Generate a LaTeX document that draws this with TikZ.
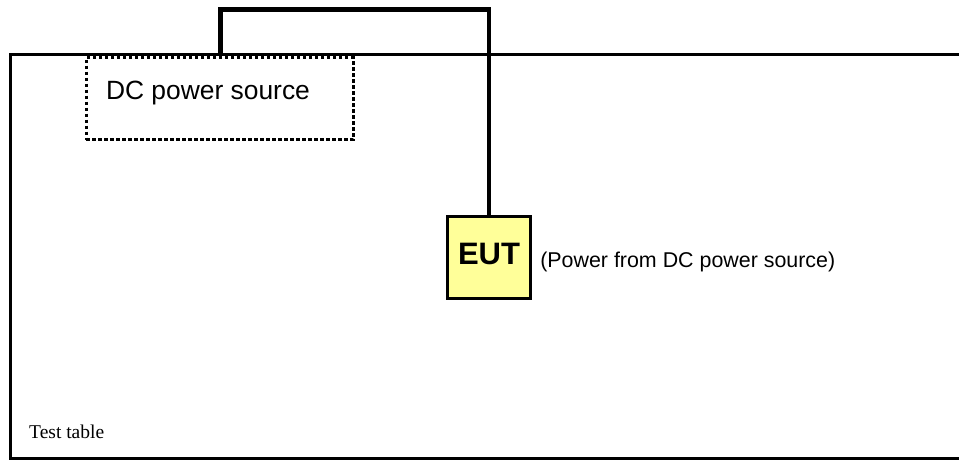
\documentclass[tikz,border=0pt]{standalone}
\usepackage{fontspec}
\setmainfont{Liberation Serif}
\newfontfamily\arial{Liberation Sans}
\usetikzlibrary{positioning,calc}
\definecolor{eutyel}{RGB}{255,255,153}
\tikzset{
  tbl/.style={line width=3pt, line cap=rect},
  srcbox/.style={draw, line width=3.4pt, dash pattern=on 3.4pt off 2.6pt,
      minimum width=267pt, minimum height=82pt, inner sep=0pt},
  eutbox/.style={draw, fill=eutyel, line width=3.2pt, minimum width=83pt,
      minimum height=82pt, inner sep=0pt, text depth=8pt,
      font=\arial\fontsize{31}{34}\selectfont\bfseries},
  wire/.style={line width=4.4pt},
  lbl/.style={font=\arial\fontsize{21.4}{24}\selectfont, inner sep=0pt},
}
\begin{document}
\begin{tikzpicture}[x=1pt,y=-1pt]
\useasboundingbox (0,0) rectangle (959,460);
% test table, open to the right
\draw[tbl] (959,55) -- (10,55) -- (10,458) -- (959,458);
\node[font=\fontsize{19.5}{22}\selectfont, anchor=base west, inner sep=0pt] (tlab) at (29,438) {Test table};
% power source and EUT
\node[srcbox, anchor=north west] (dcsrc) at (84.5,56) {};
\node[font=\arial\fontsize{26.4}{30}\selectfont, inner sep=0pt] (dctxt) at (208,93) {DC power source};
\node[eutbox] (eut) at (489,257.5) {EUT};
\node[lbl, right=8pt of eut, yshift=-4.5pt] (note) {(Power from DC power source)};
% supply cable
\coordinate (wtop) at (0,9.5);
\draw[wire] ([xshift=136pt]dcsrc.north west) |- (wtop -| eut.north) -- (eut.north);
\end{tikzpicture}
\end{document}
